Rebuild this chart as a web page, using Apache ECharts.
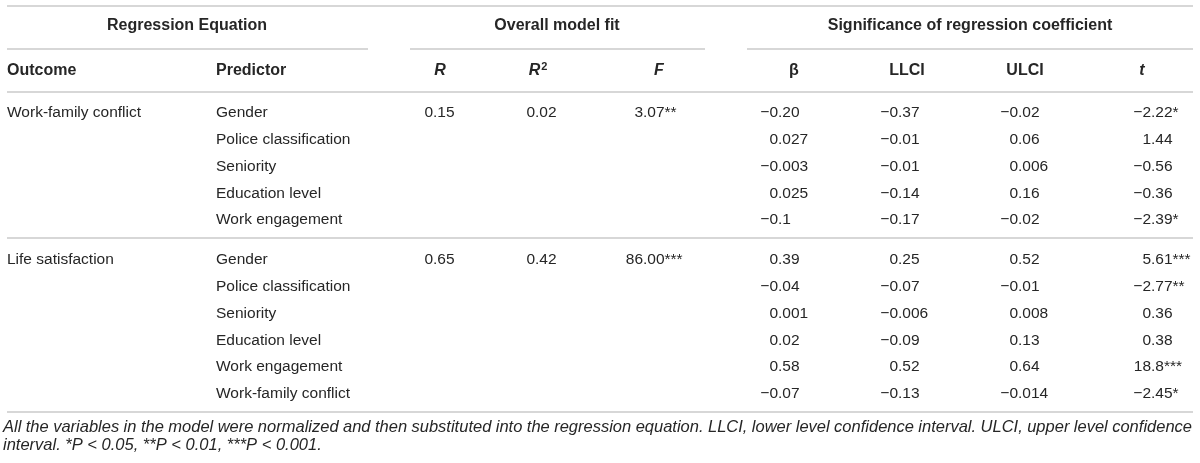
<!DOCTYPE html>
<html>
<head>
<meta charset="utf-8">
<script src="https://cdn.jsdelivr.net/npm/echarts@6/dist/echarts.min.js"></script>
<style>
    html, body { margin: 0; padding: 0; background: #fff; }
    #chart { width: 1200px; height: 463px; }
</style>
</head>
<body>
<div id="chart"></div>
<script>
// table content
const groupHeaders = ['Regression Equation', 'Overall model fit', 'Significance of regression coefficient'];
const columnHeaders = ['Outcome', 'Predictor', 'R', 'R2', 'F', 'β', 'LLCI', 'ULCI', 't'];
const outcomes = ['Work-family conflict', 'Life satisfaction'];
const predictorsWfc = ['Gender', 'Police classification', 'Seniority', 'Education level', 'Work engagement'];
const predictorsLs = ['Gender', 'Police classification', 'Seniority', 'Education level', 'Work engagement', 'Work-family conflict'];
const fitR = ['0.15', '0.65'];
const fitR2 = ['0.02', '0.42'];
const fitF = ['3.07**', '86.00***'];
const betaWfc = ['−0.20', '0.027', '−0.003', '0.025', '−0.1'];
const llciWfc = ['−0.37', '−0.01', '−0.01', '−0.14', '−0.17'];
const ulciWfc = ['−0.02', '0.06', '0.006', '0.16', '−0.02'];
const tWfc = ['−2.22*', '1.44', '−0.56', '−0.36', '−2.39*'];
const betaLs = ['0.39', '−0.04', '0.001', '0.02', '0.58', '−0.07'];
const llciLs = ['0.25', '−0.07', '−0.006', '−0.09', '0.52', '−0.13'];
const ulciLs = ['0.52', '−0.01', '0.008', '0.13', '0.64', '−0.014'];
const tLs = ['5.61***', '−2.77**', '0.36', '0.38', '18.8***', '−2.45*'];
const footnoteLines = [
    'All the variables in the model were normalized and then substituted into the regression equation. LLCI, lower level confidence interval. ULCI, upper level confidence',
    'interval. *P < 0.05, **P < 0.01, ***P < 0.001.',
];

// layout (pixel units, axes map 1:1 onto the canvas)
const FONT = '"Liberation Sans", Arial, Helvetica, sans-serif';
const TEXT_COLOR = '#262626';
const LINE_COLOR = '#cacaca';
const bodySize = 15.5;
const headSize = 16;
const footSize = 16.5;
const tableLeft = 7;
const tableRight = 1193;
const groupRowY = 26;
const headRowY = 71;
const blockTops = [113, 260];
const rowStep = 26.8;
const ruleYs = { top: 6, group: 49, head: 92, separator: 238, bottom: 412 };
const groupSpans = [[7, 368], [410, 705], [747, 1193]];
const groupCenters = [187, 557, 970];
const textColumnX = [7, 216];
const numHeadX = [440, 538, 659, 794, 907, 1025, 1142];
const numDecimalX = [433, 535, 643, 778, 898, 1018, 1151];
const footLeft = 3;
const footRight = 1192;
const footYs = [427, 445];

const cells = [];
const rules = [];

function addText(x, y, text, opts) {
    cells.push(Object.assign({ x, y, text, kind: 'text', align: 'left' }, opts));
}

function addNumber(col, y, text) {
    cells.push({ x: numDecimalX[col], y, text, kind: 'number' });
}

// header rows
groupHeaders.forEach((label, i) => {
    addText(groupCenters[i], groupRowY, label, { align: 'center', bold: true });
    rules.push([groupSpans[i][0], ruleYs.group, groupSpans[i][1]]);
});

columnHeaders.forEach((label, i) => {
    if (i < 2) {
        addText(textColumnX[i], headRowY, label, { bold: true });
        return;
    }
    const italic = ['R', 'R2', 'F', 't'].includes(label);
    addText(numHeadX[i - 2], headRowY, label, {
        align: 'center',
        bold: true,
        italic,
        rich: label === 'R2',
    });
});

// body blocks
const blocks = [
    { predictors: predictorsWfc, beta: betaWfc, llci: llciWfc, ulci: ulciWfc, t: tWfc },
    { predictors: predictorsLs, beta: betaLs, llci: llciLs, ulci: ulciLs, t: tLs },
];

blocks.forEach((block, b) => {
    const top = blockTops[b];
    addText(textColumnX[0], top, outcomes[b]);
    addNumber(0, top, fitR[b]);
    addNumber(1, top, fitR2[b]);
    addNumber(2, top, fitF[b]);

    block.predictors.forEach((name, r) => {
        const y = top + r * rowStep;
        addText(textColumnX[1], y, name);
        addNumber(3, y, block.beta[r]);
        addNumber(4, y, block.llci[r]);
        addNumber(5, y, block.ulci[r]);
        addNumber(6, y, block.t[r]);
    });
});

rules.push([tableLeft, ruleYs.top, tableRight]);
rules.push([tableLeft, ruleYs.head, tableRight]);
rules.push([tableLeft, ruleYs.separator, tableRight]);
rules.push([tableLeft, ruleYs.bottom, tableRight]);

// footnote: first line justified to the table width
const measureCtx = document.createElement('canvas').getContext('2d');
measureCtx.font = `italic ${footSize}px ${FONT}`;

footnoteLines.forEach((line, i) => {
    if (i === footnoteLines.length - 1) {
        addText(footLeft, footYs[i], line, { italic: true, size: footSize });
        return;
    }
    const words = line.split(' ');
    const widths = words.map((w) => measureCtx.measureText(w).width);
    const used = widths.reduce((sum, w) => sum + w, 0);
    const gap = (footRight - footLeft - used) / (words.length - 1);
    let cursor = footLeft;
    words.forEach((word, w) => {
        addText(cursor, footYs[i], word, { italic: true, size: footSize });
        cursor += widths[w] + gap;
    });
});

function textStyle(cell, extra) {
    return Object.assign({
        fill: TEXT_COLOR,
        fontFamily: FONT,
        fontSize: cell.size || (cell.bold ? headSize : bodySize),
        fontWeight: cell.bold ? 'bold' : 'normal',
        fontStyle: cell.italic ? 'italic' : 'normal',
        verticalAlign: 'middle',
    }, extra);
}

function renderCell(params, api) {
    const cell = cells[params.dataIndex];
    const pt = api.coord([api.value(0), api.value(1)]);

    if (cell.kind === 'number') {
        const dot = cell.text.indexOf('.');
        const intPart = dot >= 0 ? cell.text.slice(0, dot) : cell.text;
        const fracPart = dot >= 0 ? cell.text.slice(dot) : '';
        return {
            type: 'group',
            children: [
                { type: 'text', x: pt[0], y: pt[1], style: textStyle(cell, { text: intPart, align: 'right' }) },
                { type: 'text', x: pt[0], y: pt[1], style: textStyle(cell, { text: fracPart, align: 'left' }) },
            ],
        };
    }

    if (cell.rich) {
        return {
            type: 'text',
            x: pt[0],
            y: pt[1],
            style: textStyle(cell, {
                text: '{r|R}{s|2}',
                align: cell.align,
                rich: {
                    r: { fontFamily: FONT, fontSize: headSize, fontWeight: 'bold', fontStyle: 'italic', fill: TEXT_COLOR },
                    s: { fontFamily: FONT, fontSize: 11, fontWeight: 'bold', fill: TEXT_COLOR, verticalAlign: 'top', padding: [0, 0, 8, 1] },
                },
            }),
        };
    }

    return {
        type: 'text',
        x: pt[0],
        y: pt[1],
        style: textStyle(cell, { text: cell.text, align: cell.align }),
    };
}

function renderRule(params, api) {
    const a = api.coord([api.value(0), api.value(1)]);
    const b = api.coord([api.value(2), api.value(1)]);
    return {
        type: 'line',
        shape: { x1: a[0], y1: a[1], x2: b[0], y2: b[1] },
        style: { stroke: LINE_COLOR, lineWidth: 1.5 },
    };
}

const chart = echarts.init(document.getElementById('chart'), null, { renderer: 'canvas' });

chart.setOption({
    animation: false,
    grid: { left: 0, right: 0, top: 0, bottom: 0 },
    xAxis: { type: 'value', min: 0, max: 1200, show: false },
    yAxis: { type: 'value', min: 0, max: 463, inverse: true, show: false },
    series: [
        {
            type: 'custom',
            silent: true,
            renderItem: renderRule,
            encode: { x: [0, 2], y: 1 },
            data: rules,
        },
        {
            type: 'custom',
            silent: true,
            renderItem: renderCell,
            encode: { x: 0, y: 1 },
            data: cells.map((c) => [c.x, c.y]),
        },
    ],
});

window.addEventListener('resize', () => chart.resize());
</script>
</body>
</html>
